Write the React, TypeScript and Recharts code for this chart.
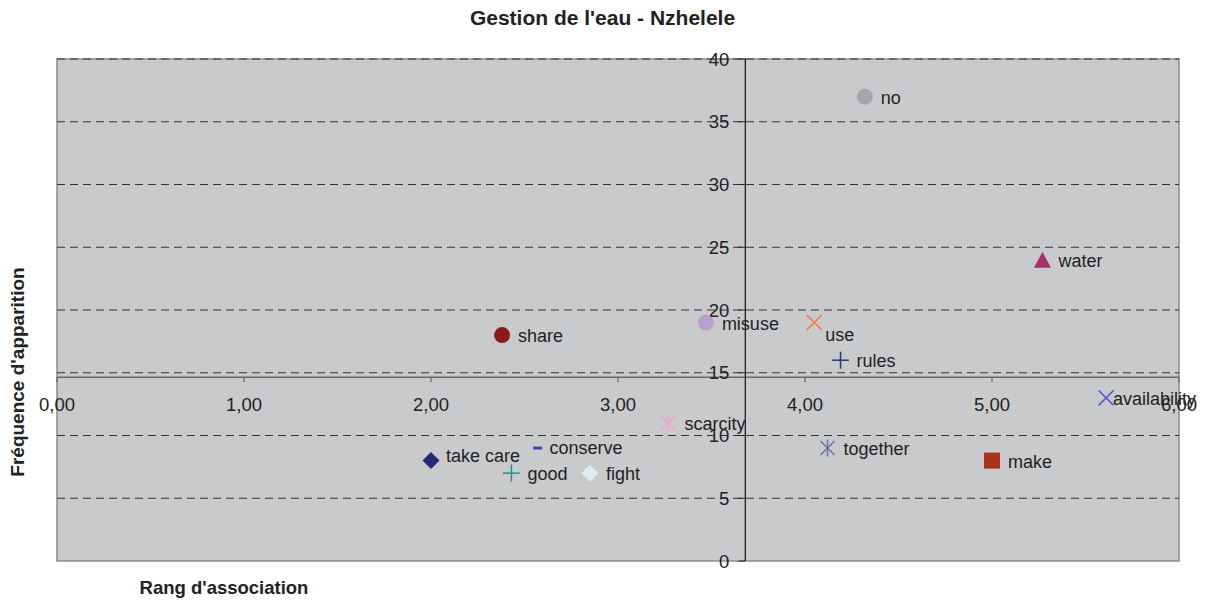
import React from 'react';
import {
  ScatterChart,
  Scatter,
  XAxis,
  YAxis,
  ReferenceArea,
  ReferenceLine,
} from 'recharts';

// ---- Data ----
const words = ['no', 'water', 'share', 'misuse', 'use', 'rules', 'availability', 'scarcity', 'together', 'make', 'take care', 'conserve', 'good', 'fight'];
const rang = [4.32, 5.27, 2.38, 3.47, 4.05, 4.19, 5.61, 3.27, 4.12, 5.0, 2.0, 2.57, 2.43, 2.85];
const frequence = [37, 24, 18, 19, 19, 16, 13, 11, 9, 8, 8, 9, 7, 7];

const xTicks = [0, 1, 2, 3, 4, 5, 6];
const yTicks = [0, 5, 10, 15, 20, 25, 30, 35, 40];
const gridLines = [5, 10, 15, 20, 25, 30, 35, 40];

const title = "Gestion de l'eau - Nzhelele";
const xTitle = "Rang d'association";
const yTitle = "Fréquence d'apparition";

// ---- Styles ----
const markerStyle: Record<string, { shape: string; color: string }> = {
  no: { shape: 'circle', color: '#a5a6a9' },
  water: { shape: 'triangle', color: '#a3336a' },
  share: { shape: 'circle', color: '#8b1a1e' },
  misuse: { shape: 'circle', color: '#b9a0cc' },
  use: { shape: 'x', color: '#f07a3a' },
  rules: { shape: 'plus', color: '#263c6e' },
  availability: { shape: 'x', color: '#5a5ac8' },
  scarcity: { shape: 'star', color: '#f4a4c4' },
  together: { shape: 'star', color: '#6e70a8' },
  make: { shape: 'square', color: '#a9311f' },
  'take care': { shape: 'diamond', color: '#262a78' },
  conserve: { shape: 'dash', color: '#3a4aa8' },
  good: { shape: 'plus', color: '#2e8c8a' },
  fight: { shape: 'diamond', color: '#d8eef4' },
};

const labelShift: Record<string, [number, number]> = {
  use: [11, 12],
  availability: [7, 1],
  'take care': [15, -5],
  conserve: [12, 0],
};

const FONT = '"Liberation Sans", Arial, sans-serif';
const TEXT = '#222';
const LABEL_SIZE = 18;
const TICK_SIZE = 18.5;

const meanX = rang.reduce((a, b) => a + b, 0) / rang.length;
const meanY = frequence.reduce((a, b) => a + b, 0) / frequence.length;

const points = words.map((w, i) => ({ name: w, x: rang[i], y: frequence[i] }));
const xTickPts = xTicks.map((v) => ({ x: v, y: meanY, v }));
const yTickPts = yTicks.map((v) => ({ x: meanX, y: v, v }));

const fmt = (v: number) => v.toFixed(2).replace('.', ',');

function Marker(props: any) {
  const { cx, cy, payload } = props;
  if (cx == null || cy == null) return null;
  const st = markerStyle[payload.name];
  const c = st.color;
  let m: React.ReactNode = null;
  switch (st.shape) {
    case 'circle':
      m = <circle cx={cx} cy={cy} r={8} fill={c} />;
      break;
    case 'triangle':
      m = <polygon points={`${cx},${cy - 8} ${cx + 8.5},${cy + 8} ${cx - 8.5},${cy + 8}`} fill={c} />;
      break;
    case 'square':
      m = <rect x={cx - 8} y={cy - 8} width={16} height={16} fill={c} />;
      break;
    case 'diamond':
      m = <polygon points={`${cx},${cy - 8.5} ${cx + 8.5},${cy} ${cx},${cy + 8.5} ${cx - 8.5},${cy}`} fill={c} />;
      break;
    case 'x':
      m = (
        <g stroke={c} strokeWidth={1.5}>
          <line x1={cx - 7.5} y1={cy - 7.5} x2={cx + 7.5} y2={cy + 7.5} />
          <line x1={cx - 7.5} y1={cy + 7.5} x2={cx + 7.5} y2={cy - 7.5} />
        </g>
      );
      break;
    case 'plus':
      m = (
        <g stroke={c} strokeWidth={1.5}>
          <line x1={cx - 8.5} y1={cy} x2={cx + 8.5} y2={cy} />
          <line x1={cx} y1={cy - 8.5} x2={cx} y2={cy + 8.5} />
        </g>
      );
      break;
    case 'star':
      m = (
        <g stroke={c} strokeWidth={1.5}>
          <line x1={cx - 7} y1={cy - 7} x2={cx + 7} y2={cy + 7} />
          <line x1={cx - 7} y1={cy + 7} x2={cx + 7} y2={cy - 7} />
          <line x1={cx} y1={cy - 8.5} x2={cx} y2={cy + 8.5} />
        </g>
      );
      break;
    case 'dash':
      m = <rect x={cx - 4.5} y={cy - 1.5} width={9} height={3} fill={c} />;
      break;
  }
  const [dx, dy] = labelShift[payload.name] || [16, 1];
  return (
    <g>
      {m}
      <text
        x={cx + dx}
        y={cy + dy}
        fill={TEXT}
        fontSize={LABEL_SIZE}
        fontFamily={FONT}
        dominantBaseline="central"
        textAnchor="start"
      >
        {payload.name}
      </text>
    </g>
  );
}

function XTick(props: any) {
  const { cx, cy, payload } = props;
  if (cx == null || cy == null) return null;
  return (
    <g>
      <line x1={cx} y1={cy} x2={cx} y2={cy + 5} stroke="#555" strokeWidth={1} />
      <text x={cx} y={cy + 27} fill={TEXT} fontSize={TICK_SIZE} fontFamily={FONT} textAnchor="middle" dominantBaseline="central">
        {fmt(payload.v)}
      </text>
    </g>
  );
}

function YTick(props: any) {
  const { cx, cy, payload } = props;
  if (cx == null || cy == null) return null;
  return (
    <g>
      <line x1={cx - 7} y1={cy} x2={cx} y2={cy} stroke="#222" strokeWidth={1} />
      <text x={cx - 16} y={cy} fill={TEXT} fontSize={TICK_SIZE} fontFamily={FONT} textAnchor="end" dominantBaseline="central">
        {payload.v}
      </text>
    </g>
  );
}

export default function App() {
  return (
    <div style={{ position: 'absolute', left: 0, top: 0, width: 1205, height: 604, background: '#fff', fontFamily: FONT }}>
      <ScatterChart width={1205} height={604} margin={{ top: 59, right: 26, bottom: 43, left: 57 }}>
        <XAxis type="number" dataKey="x" domain={[0, 6]} ticks={xTicks} hide />
        <YAxis type="number" dataKey="y" domain={[0, 40]} ticks={yTicks} hide />
        <ReferenceArea x1={0} x2={6} y1={0} y2={40} fill="#c9cacc" fillOpacity={1} stroke="#8a8a8a" strokeWidth={1.5} />
        {gridLines.map((g) => (
          <ReferenceLine key={g} y={g} stroke="#333" strokeDasharray="8 5" strokeWidth={1} />
        ))}
        <ReferenceLine y={meanY} stroke="#666" strokeWidth={1.5} />
        <ReferenceLine x={meanX} stroke="#111" strokeWidth={1.2} />
        <Scatter data={xTickPts} shape={<XTick />} isAnimationActive={false} />
        <Scatter data={yTickPts} shape={<YTick />} isAnimationActive={false} />
        <Scatter data={points} shape={<Marker />} isAnimationActive={false} />
      </ScatterChart>
      <div style={{ position: 'absolute', left: 0, top: 6, width: 1205, textAlign: 'center', fontWeight: 'bold', fontSize: 21, color: TEXT, lineHeight: '24px' }}>
        {title}
      </div>
      <div style={{ position: 'absolute', left: 104, top: 577, width: 240, textAlign: 'center', fontWeight: 'bold', fontSize: 18.5, color: TEXT, lineHeight: '22px' }}>
        {xTitle}
      </div>
      <div
        style={{
          position: 'absolute',
          left: 18 - 150,
          top: 372 - 11,
          width: 300,
          textAlign: 'center',
          fontWeight: 'bold',
          fontSize: 19,
          color: TEXT,
          lineHeight: '22px',
          transform: 'rotate(-90deg)',
          transformOrigin: '150px 11px',
        }}
      >
        {yTitle}
      </div>
    </div>
  );
}
